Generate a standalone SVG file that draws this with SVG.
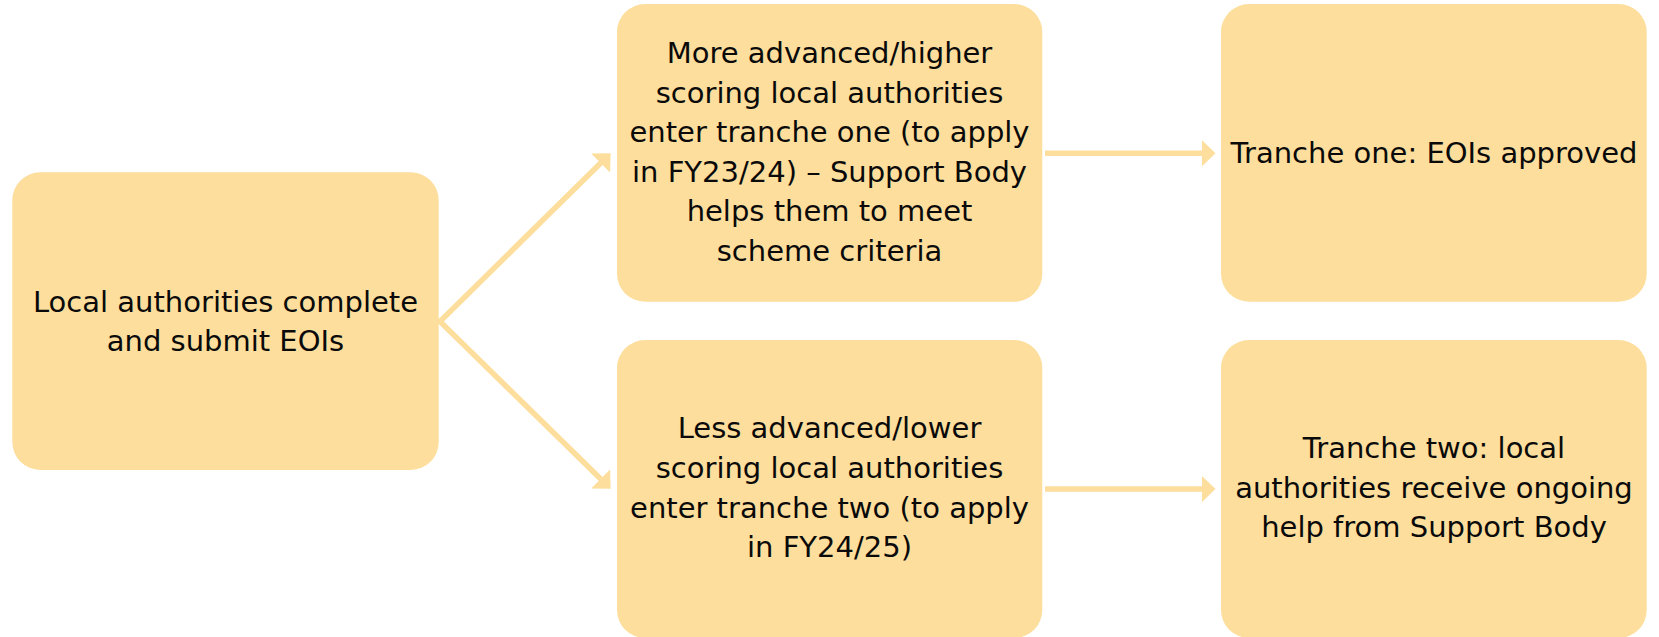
<svg xmlns="http://www.w3.org/2000/svg" width="1659" height="637" viewBox="0 0 1659 637">
  <style>
    .box { fill: #FDDE9C; }
    .lbl { font-family: "DejaVu Sans", "Liberation Sans", sans-serif; font-size: 29px; fill: #0a0a0a; text-anchor: middle; }
    .conn { stroke: #FDDE9C; stroke-width: 5.5; fill: none; stroke-linecap: butt; stroke-linejoin: miter; }
  </style>
  <defs>
    <marker id="arrow" markerUnits="userSpaceOnUse" viewBox="0 0 14 27" markerWidth="14" markerHeight="27" refX="0.5" refY="13.5" orient="auto-start-reverse">
      <path d="M0,0 L14,13.5 L0,27 Z" fill="#FDDE9C"/>
    </marker>
  </defs>
  <rect width="1659" height="637" fill="#ffffff"/>

  <g id="connectors">
    <polyline class="conn" points="601,162.8 440,321.5 601,479.2" marker-start="url(#arrow)" marker-end="url(#arrow)"/>
    <line class="conn" x1="1045" y1="153.3" x2="1202" y2="153.3" marker-end="url(#arrow)"/>
    <line class="conn" x1="1045" y1="489" x2="1202" y2="489" marker-end="url(#arrow)"/>
  </g>

  <g id="node-submit">
    <rect class="box" x="12.3" y="172.3" width="426.4" height="297.7" rx="28" ry="28"/>
    <text class="lbl" x="225.5" y="311.7">Local authorities complete</text>
    <text class="lbl" x="225.5" y="351.3">and submit EOIs</text>
  </g>

  <g id="node-tranche1-enter">
    <rect class="box" x="617" y="4" width="425.3" height="297.7" rx="28" ry="28"/>
    <text class="lbl" x="829.5" y="63">More advanced/higher</text>
    <text class="lbl" x="829.5" y="102.6">scoring local authorities</text>
    <text class="lbl" x="829.5" y="142.2">enter tranche one (to apply</text>
    <text class="lbl" x="829.5" y="181.8">in FY23/24) – Support Body</text>
    <text class="lbl" x="829.5" y="221.4">helps them to meet</text>
    <text class="lbl" x="829.5" y="261">scheme criteria</text>
  </g>

  <g id="node-tranche2-enter">
    <rect class="box" x="617" y="340" width="425.3" height="298" rx="28" ry="28"/>
    <text class="lbl" x="829.5" y="438.3">Less advanced/lower</text>
    <text class="lbl" x="829.5" y="477.9">scoring local authorities</text>
    <text class="lbl" x="829.5" y="517.5">enter tranche two (to apply</text>
    <text class="lbl" x="829.5" y="557.1">in FY24/25)</text>
  </g>

  <g id="node-tranche1-approved">
    <rect class="box" x="1221" y="4" width="425.7" height="297.7" rx="28" ry="28"/>
    <text class="lbl" x="1434" y="162.7">Tranche one: EOIs approved</text>
  </g>

  <g id="node-tranche2-help">
    <rect class="box" x="1221" y="340" width="425.7" height="298" rx="28" ry="28"/>
    <text class="lbl" x="1434" y="458.3">Tranche two: local</text>
    <text class="lbl" x="1434" y="497.8">authorities receive ongoing</text>
    <text class="lbl" x="1434" y="537.2">help from Support Body</text>
  </g>
</svg>
